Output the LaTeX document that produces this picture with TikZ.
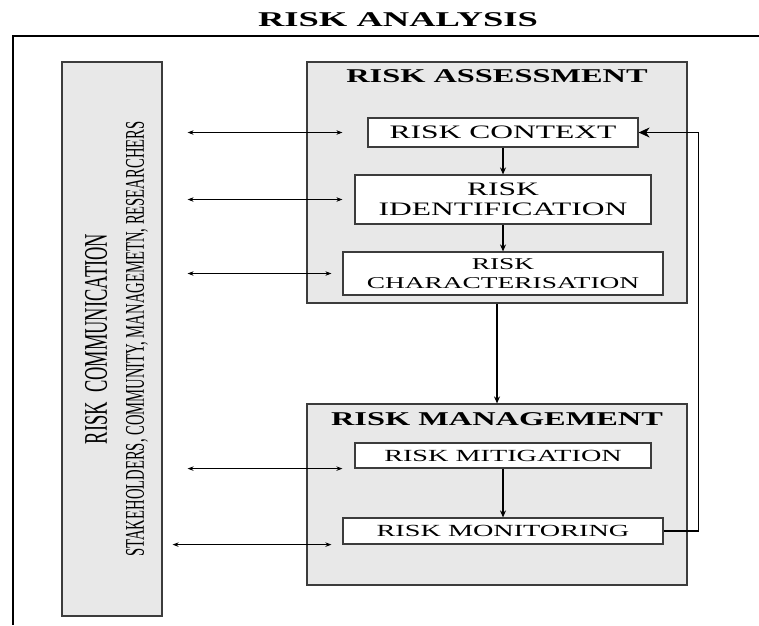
\documentclass[tikz,border=0pt]{standalone}
\usepackage{fontspec}
\setmainfont{Liberation Serif}
\usetikzlibrary{arrows.meta,positioning}

\definecolor{panelgray}{HTML}{E8E8E8}
\definecolor{edgegray}{HTML}{3C3C3C}
\newcommand{\wide}[1]{\scalebox{1.66}[1]{#1}}

\tikzset{
  panel/.style={draw=edgegray, line width=1.2pt, fill=panelgray, inner sep=0pt},
  stagebox/.style={draw=edgegray, line width=1.2pt, fill=white, inner sep=0pt,
    align=center, font=\fontsize{19}{20}\selectfont},
  paneltitle/.style={inner sep=0pt, font=\fontsize{19.5}{21}\selectfont\bfseries},
  talk/.style={>={Stealth[length=6pt,width=4.5pt]}, <->, line width=0.8pt},
  flow/.style={-{Stealth[length=7pt,width=6pt]}, line width=1.2pt},
  feedback/.style={-{Stealth[length=11pt,width=10pt,inset=3.5pt]}, line width=1.2pt},
}

\begin{document}
\begin{tikzpicture}[x=1pt,y=-1pt]
    \useasboundingbox (0,0) rectangle (759,625);
    \node[paneltitle, font=\fontsize{21}{22}\selectfont\bfseries] (title) at (398,20)
        {\scalebox{1.74}[1]{RISK ANALYSIS}};
    \draw[line width=1.4pt] (759,36) -- (13,36) -- (13,625);

    % communication column
    \node[panel, minimum width=100pt, minimum height=554pt] (comm) at (112,339) {};
    \node[rotate=90, inner sep=0pt, font=\fontsize{33}{33}\selectfont] (commhead) at (96,339)
        {\scalebox{0.56}[1]{RISK\enspace COMMUNICATION}};
    \node[rotate=90, inner sep=0pt, font=\fontsize{27}{27}\selectfont] (commwho) at (137,339)
        {\scalebox{0.543}[1]{STAKEHOLDERS, COMMUNITY, MANAGEMETN, RESEARCHERS}};

    % assessment
    \node[panel, minimum width=380pt, minimum height=241pt] (assess) at (497,182.5) {};
    \node[paneltitle] (assesshead) at (497,76.5) {\wide{RISK ASSESSMENT}};
    \node[stagebox, minimum width=270pt, minimum height=29pt] (ctx) at (503,132.5)
        {\wide{RISK CONTEXT}};
    \node[stagebox, minimum width=296pt, minimum height=49pt] (ident) at (503,199.5)
        {\wide{RISK}\\\wide{IDENTIFICATION}};
    \node[stagebox, minimum width=320pt, minimum height=43pt,
        font=\fontsize{16.5}{19}\selectfont] (char) at (503,273.5)
        {\wide{RISK}\\\wide{CHARACTERISATION}};

    % management
    \node[panel, minimum width=380pt, minimum height=181pt] (mgmt) at (497,494.5) {};
    \node[paneltitle] (mgmthead) at (497,419.5) {\wide{RISK MANAGEMENT}};
    \node[stagebox, minimum width=296pt, minimum height=25pt,
        font=\fontsize{17}{18}\selectfont] (mit) at (503,455.5) {\wide{RISK MITIGATION}};
    \node[stagebox, minimum width=320pt, minimum height=26pt,
        font=\fontsize{17}{18}\selectfont] (mon) at (503,531) {\wide{RISK MONITORING}};

    \draw[flow] (ctx) -- (ident);
    \draw[flow] (ident) -- (char);
    \draw[flow] (assess) -- (mgmt);
    \draw[flow] (mit) -- (mon);
    \draw[feedback] (mon.east) -- ++(35,0) |- (ctx.east);

    \draw[talk, shorten <=25pt, shorten >=25pt] (comm.east |- ctx.west) -- (ctx.west);
    \draw[talk, shorten <=25pt, shorten >=12pt] (comm.east |- ident.west) -- (ident.west);
    \draw[talk, shorten <=25pt, shorten >=11pt] (comm.east |- char.west) -- (char.west);
    \draw[talk, shorten <=25pt, shorten >=12pt] (comm.east |- mit.south west) -- (mit.south west);
    \draw[talk, shorten <=10pt, shorten >=11pt] (comm.east |- mon.south west) -- (mon.south west);
\end{tikzpicture}
\end{document}
